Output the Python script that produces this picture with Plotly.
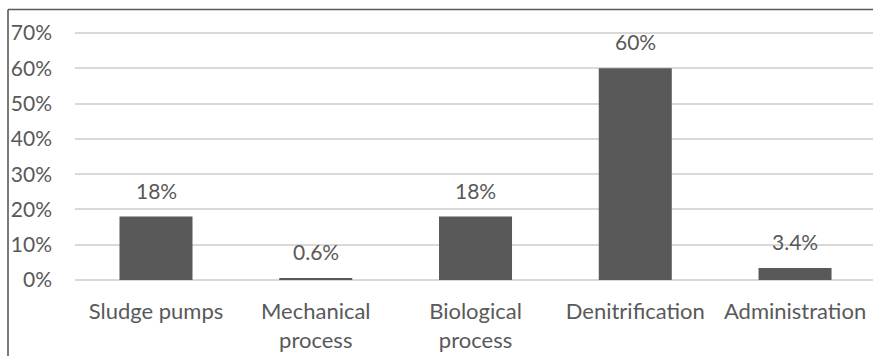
import plotly.graph_objects as go

# Share of energy consumption by plant unit
categories = ["Sludge pumps", "Mechanical<br>process", "Biological<br>process",
              "Denitrification", "Administration"]
shares = [0.18, 0.006, 0.18, 0.60, 0.034]
value_labels = ["18%", "0.6%", "18%", "60%", "3.4%"]
y_ticks = [0, 0.1, 0.2, 0.3, 0.4, 0.5, 0.6, 0.7]
y_tick_labels = ["0%", "10%", "20%", "30%", "40%", "50%", "60%", "70%"]

TEXT = "#595959"
GRID = "#d9d9d9"
FONT = "Lato"
FS = 21
W, H = 873, 356
L, T, B = 75, 26, 76
Y_MAX = 0.72
X_RANGE = [-0.507, 4.488]

positions = list(range(len(categories)))

fig = go.Figure()

# top gridline, drawn explicitly across the full plot width
fig.add_trace(go.Scatter(
    x=X_RANGE, y=[y_ticks[-1]] * 2, mode="lines",
    line=dict(color=GRID, width=1.5), hoverinfo="skip", cliponaxis=False,
))

fig.add_trace(go.Bar(
    x=positions, y=shares, width=0.457,
    marker=dict(color="#595959", line=dict(width=0)),
    hoverinfo="skip",
))

for xp, v, lab in zip(positions, shares, value_labels):
    fig.add_annotation(x=xp, y=v, text=lab, showarrow=False,
                       yanchor="bottom", yshift=12,
                       font=dict(family=FONT, size=FS, color=TEXT))

# outer frame (left and top edges visible)
pw = W - L
ph = H - T - B
fx = (8 - L) / pw
fy = 1 + (T - 9.5) / ph
frame = dict(color="#595959", width=1.6)
fig.add_shape(type="line", xref="paper", yref="paper", x0=fx, x1=1.2, y0=fy, y1=fy, line=frame)
fig.add_shape(type="line", xref="paper", yref="paper", x0=fx, x1=fx, y0=fy, y1=-0.6, line=frame)

fig.update_layout(
    width=W, height=H,
    margin=dict(l=L, r=0, t=T, b=B, pad=0),
    paper_bgcolor="white", plot_bgcolor="white",
    showlegend=False,
    font=dict(family=FONT, size=FS, color=TEXT),
    xaxis=dict(range=X_RANGE, tickvals=positions, ticktext=categories,
               tickfont=dict(size=22),
               showgrid=False, zeroline=False, showline=False, ticks="",
               ticklabelstandoff=16, fixedrange=True),
    yaxis=dict(range=[0, Y_MAX], tickvals=y_ticks, ticktext=y_tick_labels,
               showgrid=True, gridcolor=GRID, gridwidth=1.5,
               zeroline=True, zerolinecolor=GRID, zerolinewidth=1.5,
               showline=False, ticks="", ticklabelstandoff=22, fixedrange=True),
)

fig.write_html("out.html", config={"displayModeBar": False})
